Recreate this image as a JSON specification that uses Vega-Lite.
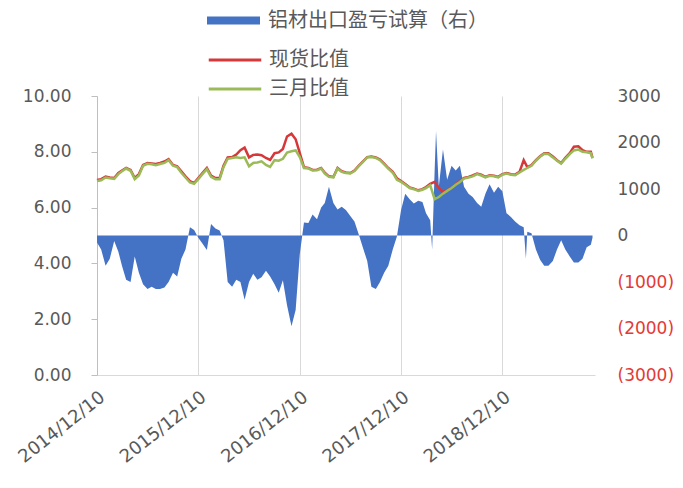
{
  "$schema": "https://vega.github.io/schema/vega-lite/v6.json",
  "width": 498,
  "height": 279,
  "autosize": "none",
  "padding": {"left": 97, "top": 96, "right": 88, "bottom": 113},
  "background": "white",
  "config": {
    "view": {"stroke": null},
    "font": "DejaVu Sans",
    "axis": {"labelColor": "#595959", "labelFontSize": 17, "labelFont": "DejaVu Sans", "title": null}
  },
  "datasets": {
    "ratio": [
      {"date": "2014-12-10", "spot": 6.99, "m3": 6.95},
      {"date": "2014-12-25", "spot": 7.02, "m3": 6.98},
      {"date": "2015-01-10", "spot": 7.11, "m3": 7.08},
      {"date": "2015-01-25", "spot": 7.08, "m3": 7.05},
      {"date": "2015-02-10", "spot": 7.06, "m3": 7.03},
      {"date": "2015-02-25", "spot": 7.24, "m3": 7.2},
      {"date": "2015-03-10", "spot": 7.33, "m3": 7.3},
      {"date": "2015-03-25", "spot": 7.42, "m3": 7.4},
      {"date": "2015-04-10", "spot": 7.35, "m3": 7.32},
      {"date": "2015-04-25", "spot": 7.06, "m3": 7.02},
      {"date": "2015-05-10", "spot": 7.2, "m3": 7.15},
      {"date": "2015-05-25", "spot": 7.53, "m3": 7.5},
      {"date": "2015-06-10", "spot": 7.6, "m3": 7.57},
      {"date": "2015-06-25", "spot": 7.58, "m3": 7.55},
      {"date": "2015-07-10", "spot": 7.56, "m3": 7.52},
      {"date": "2015-07-25", "spot": 7.6, "m3": 7.56},
      {"date": "2015-08-10", "spot": 7.65, "m3": 7.6},
      {"date": "2015-08-25", "spot": 7.74, "m3": 7.7},
      {"date": "2015-09-10", "spot": 7.53, "m3": 7.5},
      {"date": "2015-09-25", "spot": 7.48, "m3": 7.45},
      {"date": "2015-10-10", "spot": 7.3, "m3": 7.25},
      {"date": "2015-10-25", "spot": 7.12, "m3": 7.08},
      {"date": "2015-11-10", "spot": 6.95, "m3": 6.9},
      {"date": "2015-11-25", "spot": 6.88, "m3": 6.85},
      {"date": "2015-12-10", "spot": 7.06, "m3": 7.02},
      {"date": "2015-12-25", "spot": 7.24, "m3": 7.2},
      {"date": "2016-01-10", "spot": 7.42, "m3": 7.38},
      {"date": "2016-01-25", "spot": 7.15, "m3": 7.1},
      {"date": "2016-02-10", "spot": 7.06, "m3": 7.02},
      {"date": "2016-02-25", "spot": 7.06, "m3": 7.02},
      {"date": "2016-03-10", "spot": 7.5, "m3": 7.45},
      {"date": "2016-03-25", "spot": 7.8, "m3": 7.75},
      {"date": "2016-04-10", "spot": 7.81, "m3": 7.78},
      {"date": "2016-04-25", "spot": 7.9, "m3": 7.8},
      {"date": "2016-05-10", "spot": 8.06, "m3": 7.78},
      {"date": "2016-05-25", "spot": 8.15, "m3": 7.8},
      {"date": "2016-06-10", "spot": 7.8, "m3": 7.48},
      {"date": "2016-06-25", "spot": 7.89, "m3": 7.6},
      {"date": "2016-07-10", "spot": 7.9, "m3": 7.62},
      {"date": "2016-07-25", "spot": 7.88, "m3": 7.66},
      {"date": "2016-08-10", "spot": 7.78, "m3": 7.53},
      {"date": "2016-08-25", "spot": 7.71, "m3": 7.46},
      {"date": "2016-09-10", "spot": 7.95, "m3": 7.7},
      {"date": "2016-09-25", "spot": 7.98, "m3": 7.68},
      {"date": "2016-10-10", "spot": 8.1, "m3": 7.75},
      {"date": "2016-10-25", "spot": 8.55, "m3": 7.97},
      {"date": "2016-11-10", "spot": 8.65, "m3": 8.02},
      {"date": "2016-11-25", "spot": 8.45, "m3": 8.05},
      {"date": "2016-12-10", "spot": 7.95, "m3": 7.81},
      {"date": "2016-12-25", "spot": 7.45, "m3": 7.42},
      {"date": "2017-01-10", "spot": 7.42, "m3": 7.4},
      {"date": "2017-01-25", "spot": 7.35, "m3": 7.33},
      {"date": "2017-02-10", "spot": 7.36, "m3": 7.34},
      {"date": "2017-02-25", "spot": 7.42, "m3": 7.4},
      {"date": "2017-03-10", "spot": 7.25, "m3": 7.22},
      {"date": "2017-03-25", "spot": 7.12, "m3": 7.1},
      {"date": "2017-04-10", "spot": 7.1, "m3": 7.08},
      {"date": "2017-04-25", "spot": 7.42, "m3": 7.4},
      {"date": "2017-05-10", "spot": 7.3, "m3": 7.28},
      {"date": "2017-05-25", "spot": 7.26, "m3": 7.24},
      {"date": "2017-06-10", "spot": 7.24, "m3": 7.22},
      {"date": "2017-06-25", "spot": 7.33, "m3": 7.31},
      {"date": "2017-07-10", "spot": 7.5, "m3": 7.48},
      {"date": "2017-07-25", "spot": 7.65, "m3": 7.63},
      {"date": "2017-08-10", "spot": 7.81, "m3": 7.8},
      {"date": "2017-08-25", "spot": 7.83, "m3": 7.81},
      {"date": "2017-09-10", "spot": 7.8, "m3": 7.78},
      {"date": "2017-09-25", "spot": 7.72, "m3": 7.7},
      {"date": "2017-10-10", "spot": 7.58, "m3": 7.55},
      {"date": "2017-10-25", "spot": 7.42, "m3": 7.4},
      {"date": "2017-11-10", "spot": 7.28, "m3": 7.25},
      {"date": "2017-11-25", "spot": 7.05, "m3": 7.0},
      {"date": "2017-12-10", "spot": 6.95, "m3": 6.92},
      {"date": "2017-12-25", "spot": 6.85, "m3": 6.82},
      {"date": "2018-01-10", "spot": 6.72, "m3": 6.7},
      {"date": "2018-01-25", "spot": 6.68, "m3": 6.66},
      {"date": "2018-02-10", "spot": 6.62, "m3": 6.6},
      {"date": "2018-02-25", "spot": 6.66, "m3": 6.64},
      {"date": "2018-03-10", "spot": 6.74, "m3": 6.7},
      {"date": "2018-03-25", "spot": 6.85, "m3": 6.8},
      {"date": "2018-04-10", "spot": 6.92, "m3": 6.3},
      {"date": "2018-04-25", "spot": 6.7, "m3": 6.38},
      {"date": "2018-05-10", "spot": 6.55, "m3": 6.5},
      {"date": "2018-05-25", "spot": 6.62, "m3": 6.6},
      {"date": "2018-06-10", "spot": 6.72, "m3": 6.7},
      {"date": "2018-06-25", "spot": 6.84, "m3": 6.82},
      {"date": "2018-07-10", "spot": 6.95, "m3": 6.92},
      {"date": "2018-07-25", "spot": 7.06, "m3": 7.04},
      {"date": "2018-08-10", "spot": 7.1, "m3": 7.08},
      {"date": "2018-08-25", "spot": 7.15, "m3": 7.12},
      {"date": "2018-09-10", "spot": 7.22, "m3": 7.2},
      {"date": "2018-09-25", "spot": 7.18, "m3": 7.15},
      {"date": "2018-10-10", "spot": 7.1, "m3": 7.08},
      {"date": "2018-10-25", "spot": 7.16, "m3": 7.14},
      {"date": "2018-11-10", "spot": 7.14, "m3": 7.12},
      {"date": "2018-11-25", "spot": 7.1, "m3": 7.08},
      {"date": "2018-12-10", "spot": 7.2, "m3": 7.18},
      {"date": "2018-12-25", "spot": 7.24, "m3": 7.22},
      {"date": "2019-01-10", "spot": 7.2, "m3": 7.18},
      {"date": "2019-01-25", "spot": 7.18, "m3": 7.16},
      {"date": "2019-02-10", "spot": 7.28, "m3": 7.26},
      {"date": "2019-02-25", "spot": 7.7, "m3": 7.35},
      {"date": "2019-03-10", "spot": 7.45, "m3": 7.42},
      {"date": "2019-03-25", "spot": 7.52, "m3": 7.5},
      {"date": "2019-04-10", "spot": 7.7, "m3": 7.68},
      {"date": "2019-04-25", "spot": 7.84, "m3": 7.82},
      {"date": "2019-05-10", "spot": 7.95, "m3": 7.93},
      {"date": "2019-05-25", "spot": 7.95, "m3": 7.92},
      {"date": "2019-06-10", "spot": 7.83, "m3": 7.8},
      {"date": "2019-06-25", "spot": 7.7, "m3": 7.68},
      {"date": "2019-07-10", "spot": 7.6, "m3": 7.58},
      {"date": "2019-07-25", "spot": 7.78, "m3": 7.75},
      {"date": "2019-08-10", "spot": 7.95, "m3": 7.92},
      {"date": "2019-08-25", "spot": 8.18, "m3": 8.05},
      {"date": "2019-09-10", "spot": 8.2, "m3": 8.08},
      {"date": "2019-09-25", "spot": 8.06, "m3": 8.0},
      {"date": "2019-10-10", "spot": 8.0, "m3": 7.98},
      {"date": "2019-10-25", "spot": 8.0, "m3": 7.95},
      {"date": "2019-10-31", "spot": 7.78, "m3": 7.76}
    ],
    "pl": [
      {"date": "2014-12-10", "pl": -150},
      {"date": "2014-12-25", "pl": -300},
      {"date": "2015-01-10", "pl": -650},
      {"date": "2015-01-25", "pl": -500},
      {"date": "2015-02-10", "pl": -120},
      {"date": "2015-02-25", "pl": -350},
      {"date": "2015-03-10", "pl": -650},
      {"date": "2015-03-25", "pl": -950},
      {"date": "2015-04-10", "pl": -1000},
      {"date": "2015-04-25", "pl": -450},
      {"date": "2015-05-10", "pl": -800},
      {"date": "2015-05-25", "pl": -1050},
      {"date": "2015-06-10", "pl": -1150},
      {"date": "2015-06-25", "pl": -1100},
      {"date": "2015-07-10", "pl": -1150},
      {"date": "2015-07-25", "pl": -1150},
      {"date": "2015-08-10", "pl": -1120},
      {"date": "2015-08-25", "pl": -1000},
      {"date": "2015-09-10", "pl": -800},
      {"date": "2015-09-25", "pl": -880},
      {"date": "2015-10-10", "pl": -500},
      {"date": "2015-10-25", "pl": -300},
      {"date": "2015-11-10", "pl": 180},
      {"date": "2015-11-25", "pl": 120},
      {"date": "2015-12-10", "pl": -50},
      {"date": "2015-12-25", "pl": -170},
      {"date": "2016-01-10", "pl": -310},
      {"date": "2016-01-25", "pl": 250},
      {"date": "2016-02-10", "pl": 150},
      {"date": "2016-02-25", "pl": 110},
      {"date": "2016-03-10", "pl": -100},
      {"date": "2016-03-25", "pl": -1000},
      {"date": "2016-04-10", "pl": -1100},
      {"date": "2016-04-25", "pl": -950},
      {"date": "2016-05-10", "pl": -1000},
      {"date": "2016-05-25", "pl": -1380},
      {"date": "2016-06-10", "pl": -1000},
      {"date": "2016-06-25", "pl": -820},
      {"date": "2016-07-10", "pl": -950},
      {"date": "2016-07-25", "pl": -900},
      {"date": "2016-08-10", "pl": -760},
      {"date": "2016-08-25", "pl": -880},
      {"date": "2016-09-10", "pl": -1050},
      {"date": "2016-09-25", "pl": -1230},
      {"date": "2016-10-10", "pl": -960},
      {"date": "2016-10-25", "pl": -1500},
      {"date": "2016-11-10", "pl": -1950},
      {"date": "2016-11-25", "pl": -1600},
      {"date": "2016-12-10", "pl": -400},
      {"date": "2016-12-25", "pl": 280},
      {"date": "2017-01-10", "pl": 270},
      {"date": "2017-01-25", "pl": 450},
      {"date": "2017-02-10", "pl": 350},
      {"date": "2017-02-25", "pl": 600},
      {"date": "2017-03-10", "pl": 700},
      {"date": "2017-03-25", "pl": 1050},
      {"date": "2017-04-10", "pl": 700},
      {"date": "2017-04-25", "pl": 560},
      {"date": "2017-05-10", "pl": 620},
      {"date": "2017-05-25", "pl": 550},
      {"date": "2017-06-10", "pl": 420},
      {"date": "2017-06-25", "pl": 300},
      {"date": "2017-07-10", "pl": 30},
      {"date": "2017-07-25", "pl": -250},
      {"date": "2017-08-10", "pl": -550},
      {"date": "2017-08-25", "pl": -1100},
      {"date": "2017-09-10", "pl": -1150},
      {"date": "2017-09-25", "pl": -1000},
      {"date": "2017-10-10", "pl": -800},
      {"date": "2017-10-25", "pl": -650},
      {"date": "2017-11-10", "pl": -300},
      {"date": "2017-11-25", "pl": -20},
      {"date": "2017-12-10", "pl": 550},
      {"date": "2017-12-25", "pl": 900},
      {"date": "2018-01-10", "pl": 780},
      {"date": "2018-01-25", "pl": 690},
      {"date": "2018-02-10", "pl": 750},
      {"date": "2018-02-25", "pl": 720},
      {"date": "2018-03-10", "pl": 480},
      {"date": "2018-03-25", "pl": 330},
      {"date": "2018-04-01", "pl": -300},
      {"date": "2018-04-10", "pl": 1400},
      {"date": "2018-04-15", "pl": 2250},
      {"date": "2018-04-25", "pl": 1050},
      {"date": "2018-05-10", "pl": 1850},
      {"date": "2018-05-25", "pl": 1200},
      {"date": "2018-06-10", "pl": 1500},
      {"date": "2018-06-25", "pl": 1400},
      {"date": "2018-07-10", "pl": 1500},
      {"date": "2018-07-25", "pl": 1050},
      {"date": "2018-08-10", "pl": 900},
      {"date": "2018-08-25", "pl": 830},
      {"date": "2018-09-10", "pl": 700},
      {"date": "2018-09-25", "pl": 620},
      {"date": "2018-10-10", "pl": 900},
      {"date": "2018-10-25", "pl": 1100},
      {"date": "2018-11-10", "pl": 920},
      {"date": "2018-11-25", "pl": 1050},
      {"date": "2018-12-10", "pl": 950},
      {"date": "2018-12-25", "pl": 480},
      {"date": "2019-01-10", "pl": 400},
      {"date": "2019-01-25", "pl": 300},
      {"date": "2019-02-10", "pl": 220},
      {"date": "2019-02-25", "pl": 180},
      {"date": "2019-03-05", "pl": -500},
      {"date": "2019-03-10", "pl": 80},
      {"date": "2019-03-25", "pl": 50},
      {"date": "2019-04-10", "pl": -300},
      {"date": "2019-04-25", "pl": -520},
      {"date": "2019-05-10", "pl": -650},
      {"date": "2019-05-25", "pl": -650},
      {"date": "2019-06-10", "pl": -550},
      {"date": "2019-06-25", "pl": -300},
      {"date": "2019-07-10", "pl": -100},
      {"date": "2019-07-25", "pl": -300},
      {"date": "2019-08-10", "pl": -450},
      {"date": "2019-08-25", "pl": -580},
      {"date": "2019-09-10", "pl": -580},
      {"date": "2019-09-25", "pl": -500},
      {"date": "2019-10-10", "pl": -250},
      {"date": "2019-10-25", "pl": -200},
      {"date": "2019-10-31", "pl": -50}
    ]
  },
  "layer": [
    {
      "data": {"name": "pl"},
      "mark": {"type": "area", "interpolate": "linear"},
      "encoding": {
        "x": {
          "field": "date", "type": "temporal",
          "scale": {"type": "utc", "domain": [{"year": 2014, "month": 12, "date": 10, "utc": true}, {"year": 2019, "month": 11, "date": 9, "utc": true}]},
          "axis": {
            "values": [
              {"year": 2014, "month": 12, "date": 10, "utc": true},
              {"year": 2015, "month": 12, "date": 10, "utc": true},
              {"year": 2016, "month": 12, "date": 10, "utc": true},
              {"year": 2017, "month": 12, "date": 10, "utc": true},
              {"year": 2018, "month": 12, "date": 10, "utc": true}
            ],
            "labelExpr": "utcFormat(datum.value, '%Y/%m/%d')",
            "labelAngle": -38, "labelAlign": "right", "labelBaseline": "top",
            "labelPadding": 13, "ticks": false, "grid": true, "gridColor": "#D9D9D9",
            "domainColor": "#D9D9D9", "title": null, "labelFontSize": 18
          }
        },
        "y": {
          "field": "pl", "type": "quantitative",
          "scale": {"domain": [-3000, 3000], "nice": false},
          "axis": {
            "orient": "right", "values": [-3000, -2000, -1000, 0, 1000, 2000, 3000],
            "labelExpr": "datum.value < 0 ? '(' + format(-datum.value, 'd') + ')' : format(datum.value, 'd')",
            "labelColor": {"condition": {"test": "datum.value < 0", "value": "#E53935"}, "value": "#595959"},
            "domain": false, "ticks": false, "grid": false, "labelPadding": 22, "title": null
          }
        },
        "y2": {"datum": 0},
        "fill": {
          "datum": "铝材出口盈亏试算（右）",
          "scale": {"domain": ["铝材出口盈亏试算（右）"], "range": ["#4472C4"]},
          "legend": {
            "orient": "none", "legendX": 110, "legendY": -102, "title": null,
            "symbolType": "M-1,-0.15L1,-0.15L1,0.15L-1,0.15Z", "symbolSize": 2809,
            "symbolStrokeWidth": 0, "labelFontSize": 20, "labelFont": "Noto Sans CJK SC",
            "labelColor": "#595959", "labelOffset": 8, "labelLimit": 400
          }
        }
      }
    },
    {
      "data": {"name": "ratio"},
      "layer": [
        {
          "mark": {"type": "line", "strokeWidth": 2.5},
          "encoding": {
            "x": {"field": "date", "type": "temporal"},
            "y": {
              "field": "spot", "type": "quantitative",
              "scale": {"domain": [0, 10], "nice": false},
              "axis": {
                "orient": "left", "values": [0, 2, 4, 6, 8, 10], "format": ".2f",
                "domainColor": "#BFBFBF", "tickColor": "#BFBFBF", "tickSize": 6,
                "labelPadding": 20, "grid": false, "title": null
              }
            },
            "stroke": {
              "datum": "现货比值",
              "scale": {"domain": ["现货比值", "三月比值"], "range": ["#D6383A", "#9BBB59"]},
              "legend": {
                "orient": "none", "legendX": 126, "legendY": -48, "title": null,
                "symbolType": "M-2.5,0L2.5,0", "symbolSize": 441, "symbolStrokeWidth": 3,
                "rowPadding": 7, "labelFontSize": 20, "labelFont": "Noto Sans CJK SC",
                "labelColor": "#595959", "labelOffset": 22, "labelLimit": 400
              }
            }
          }
        },
        {
          "mark": {"type": "line", "strokeWidth": 2.5},
          "encoding": {
            "x": {"field": "date", "type": "temporal"},
            "y": {"field": "m3", "type": "quantitative"},
            "stroke": {"datum": "三月比值"}
          }
        }
      ]
    }
  ],
  "resolve": {"scale": {"y": "independent"}}
}
